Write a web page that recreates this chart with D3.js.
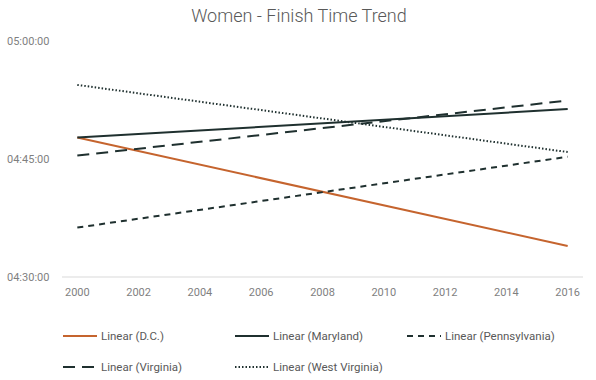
<!DOCTYPE html>
<html>
<head>
<meta charset="utf-8">
<script src="https://cdn.jsdelivr.net/npm/d3@7"></script>
<style>
  body { margin: 0; background: #fff; }
  svg { font-family: Roboto, "Open Sans", sans-serif; }
</style>
</head>
<body>
<svg width="596" height="380"></svg>
<script>
// years on the category axis
var years = d3.range(2000, 2017)
var tickYears = [2000, 2002, 2004, 2006, 2008, 2010, 2012, 2014, 2016]
var yTicks = ['04:30:00', '04:45:00', '05:00:00']

// trendlines, value at 2000 and at 2016
var seriesNames = ['Linear (D.C.)', 'Linear (Maryland)', 'Linear (Pennsylvania)', 'Linear (Virginia)', 'Linear (West Virginia)']
var dcValues = [[2000, '04:47:44'], [2016, '04:33:56']]
var marylandValues = [[2000, '04:47:44'], [2016, '04:51:21']]
var pennValues = [[2000, '04:36:17'], [2016, '04:45:17']]
var virginiaValues = [[2000, '04:45:26'], [2016, '04:52:26']]
var wvValues = [[2000, '04:54:25'], [2016, '04:45:53']]

var toSec = function (s) {
    var p = s.split(':').map(Number)
    return p[0] * 3600 + p[1] * 60 + p[2]
}

var series = [
    { name: seriesNames[0], values: dcValues, color: '#c5642e', dash: null, width: 2 },
    { name: seriesNames[1], values: marylandValues, color: '#1f302f', dash: null, width: 2 },
    { name: seriesNames[2], values: pennValues, color: '#1f302f', dash: '6,5', width: 2 },
    { name: seriesNames[3], values: virginiaValues, color: '#1f302f', dash: '12,7', width: 2 },
    { name: seriesNames[4], values: wvValues, color: '#1f302f', dash: '1.5,2', width: 2 }
]

var svg = d3.select('svg')

var x = d3.scalePoint()
    .domain(years)
    .range([62, 583])
    .padding(0.5)

var y = d3.scaleLinear()
    .domain([toSec('04:30:00'), toSec('05:00:00')])
    .range([277, 41])

// title
svg.append('text')
    .text('Women - Finish Time Trend')
    .attr('x', 299)
    .attr('y', 22)
    .attr('text-anchor', 'middle')
    .style('font-size', '18px')
    .style('font-weight', 300)
    .style('fill', '#595959')

// y axis labels
svg.append('g')
    .selectAll('text')
    .data(yTicks)
    .enter()
    .append('text')
    .text(d => d)
    .attr('x', 7)
    .attr('y', d => y(toSec(d)) + 4)
    .style('font-size', '11px')
    .style('fill', '#7f7f7f')

// baseline
svg.append('line')
    .attr('x1', 62)
    .attr('x2', 583)
    .attr('y1', y(toSec('04:30:00')))
    .attr('y2', y(toSec('04:30:00')))
    .attr('stroke', '#d9d9d9')
    .attr('stroke-width', 1)

// x labels
svg.append('g')
    .selectAll('text')
    .data(tickYears)
    .enter()
    .append('text')
    .text(d => d)
    .attr('x', d => x(d))
    .attr('y', 296)
    .attr('text-anchor', 'middle')
    .style('font-size', '11px')
    .style('fill', '#7f7f7f')

// lines
var line = d3.line()
    .x(d => x(d[0]))
    .y(d => y(toSec(d[1])))

svg.append('g')
    .selectAll('path')
    .data(series)
    .enter()
    .append('path')
    .attr('d', d => line(d.values))
    .attr('fill', 'none')
    .attr('stroke', d => d.color)
    .attr('stroke-width', d => d.width)
    .attr('stroke-dasharray', d => d.dash)

// legend
var legendPos = [[63, 336], [235, 336], [407, 336], [63, 367], [235, 367]]

var legend = svg.append('g')
    .selectAll('g')
    .data(series)
    .enter()
    .append('g')
    .attr('transform', (d, i) => 'translate(' + legendPos[i][0] + ',' + legendPos[i][1] + ')')

legend.append('line')
    .attr('x1', 0)
    .attr('x2', 34)
    .attr('y1', 0)
    .attr('y2', 0)
    .attr('stroke', d => d.color)
    .attr('stroke-width', d => d.width)
    .attr('stroke-dasharray', d => d.dash)

legend.append('text')
    .text(d => d.name)
    .attr('x', 38)
    .attr('y', 4)
    .style('font-size', '11.5px')
    .style('fill', '#595959')
</script>
</body>
</html>
